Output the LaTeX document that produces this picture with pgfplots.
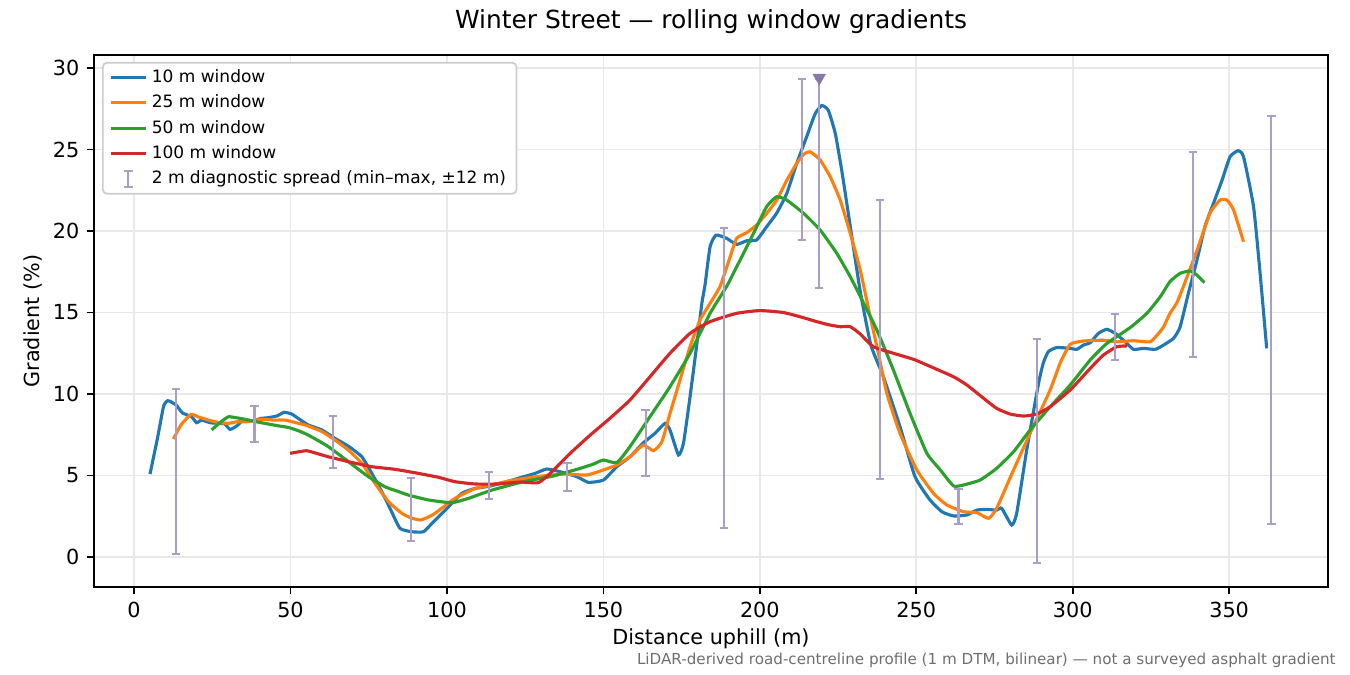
\documentclass[border=0pt]{standalone}
\usepackage{fontspec}
\setmainfont{DejaVu Sans}
\usepackage{pgfplots}
\pgfplotsset{compat=1.18}
\definecolor{c1}{HTML}{1F77B4}
\definecolor{c2}{HTML}{FF7F0E}
\definecolor{c3}{HTML}{2CA02C}
\definecolor{c4}{HTML}{D62728}
\definecolor{ebcol}{RGB}{170,158,198}
\definecolor{tricol}{RGB}{136,120,168}
\definecolor{gridcol}{RGB}{232,232,232}
\definecolor{fncol}{RGB}{110,110,110}
\begin{document}
\begin{tikzpicture}
\path[use as bounding box] (-45.12bp,-42.24bp) rectangle (602.88bp,281.76bp);
\begin{axis}[
  scale only axis, width=592.32bp, height=255.36bp,
  xmin=-12.8, xmax=381.6, ymin=-1.84, ymax=30.8,
  xtick={0,50,...,350}, ytick={0,5,...,30},
  tick pos=left, tick align=outside,
  major tick length=3.5bp,
  every tick/.style={black, line width=0.8bp},
  grid=major, grid style={gridcol, line width=0.8bp},
  axis line style={line width=0.8bp},
  ticklabel style={font=\fontsize{10}{12}\selectfont},
  /pgf/number format/assume math mode=true,
  xlabel={Distance uphill (m)}, ylabel={Gradient (\%)},
  label style={font=\fontsize{10}{12}\selectfont},
  xlabel style={at={(axis description cs:0.5,-0.097)}, anchor=center},
  ylabel style={at={(axis description cs:-0.0494,0.5)}, anchor=center},
  title={Winter Street — rolling window gradients},
  title style={at={(axis description cs:0.5,1.0395)}, anchor=center, font=\fontsize{12}{14}\selectfont},
  legend cell align=left,
  legend style={at={(0.0065,0.987)}, anchor=north west, draw={rgb,255:red,204;green,204;blue,204}, line width=0.8bp, rounded corners=2bp, fill=white,
    font=\fontsize{8.2}{10}\selectfont, nodes={inner ysep=1.2bp}, row sep=2.1bp},
]
\addplot[c1, line width=1.5bp, smooth, tension=0.3] coordinates {
(5.1,5.09)(7.5,7.3)(9.5,9.3)(10.8,9.59)(12.0,9.5)(13.6,9.3)(15.4,8.85)(18.4,8.6)(20.0,8.24)(21.6,8.4)(24.3,8.24)(27.0,8.2)(29.0,8.16)(30.7,7.83)(32.8,8.04)(35.0,8.4)(38.0,8.35)(40.5,8.5)(42.9,8.55)(45.6,8.65)(48.0,8.88)(50.4,8.77)(52.5,8.5)(55.7,8.1)(60.0,7.8)(64.2,7.28)(68.5,6.8)(72.8,6.15)(76.0,5.13)(79.2,4.0)(81.8,2.99)(85.0,1.76)(88.8,1.55)(92.5,1.55)(95.2,2.06)(100.5,3.08)(104.7,3.9)(107.4,4.11)(109.0,4.21)(113.8,4.35)(120.2,4.68)(124.0,4.9)(128.2,5.13)(131.9,5.4)(136.2,5.23)(141.5,4.93)(145.2,4.58)(150.0,4.72)(154.3,5.54)(158.5,6.15)(162.8,7.01)(166.5,7.59)(169.7,8.2)(171.3,7.79)(174.0,6.26)(175.6,6.98)(177.7,9.83)(179.9,13.1)(181.5,15.6)(182.5,16.7)(184.1,19.04)(186.0,19.75)(189.4,19.55)(192.6,19.18)(195.8,19.4)(199.0,19.45)(202.2,20.27)(205.4,21.1)(208.6,22.3)(211.8,24.15)(215.0,25.8)(217.7,27.2)(219.8,27.7)(221.9,27.4)(224.1,26.0)(226.2,23.7)(228.9,20.3)(232.1,16.3)(235.5,13.0)(239.5,11.06)(244.8,8.0)(249.6,4.93)(254.4,3.5)(258.2,2.78)(261.9,2.52)(266.2,2.58)(269.4,2.88)(272.6,2.92)(275.7,2.88)(277.3,2.99)(280.5,1.96)(282.1,2.68)(285.3,6.56)(289.1,10.66)(290.6,11.9)(292.2,12.6)(294.9,12.85)(299.2,12.8)(301.3,12.74)(303.4,13.0)(305.6,13.15)(308.2,13.72)(310.9,13.97)(313.6,13.72)(316.8,13.2)(319.4,12.74)(322.6,12.8)(326.4,12.74)(329.0,13.0)(332.2,13.41)(334.3,14.1)(337.0,16.2)(339.7,18.2)(342.3,20.3)(345.0,21.7)(347.7,23.1)(350.3,24.56)(352.9,24.93)(354.6,24.56)(357.8,21.5)(359.9,17.4)(362.0,12.8)
};
\addlegendentry{10 m window}
\addplot[c2, line width=1.5bp, smooth, tension=0.3] coordinates {
(12.6,7.24)(15.0,8.1)(18.2,8.75)(20.5,8.6)(23.8,8.4)(27.0,8.25)(30.1,8.2)(33.0,8.3)(36.0,8.3)(40.8,8.45)(44.5,8.4)(48.3,8.4)(51.5,8.25)(54.7,8.1)(60.0,7.7)(64.2,7.18)(68.5,6.56)(72.8,5.75)(77.0,4.52)(81.3,3.4)(85.6,2.68)(88.5,2.4)(91.4,2.27)(93.5,2.4)(96.2,2.68)(102.6,3.6)(109.0,4.2)(113.8,4.4)(120.2,4.68)(128.7,4.93)(137.2,5.09)(144.7,5.03)(150.0,5.34)(154.3,5.64)(158.5,6.15)(162.8,6.87)(166.0,6.52)(168.7,7.07)(171.3,8.81)(174.5,10.86)(177.7,12.9)(180.9,14.54)(184.1,15.56)(187.3,16.6)(190.5,18.4)(192.6,19.55)(195.8,19.9)(199.0,20.37)(202.2,21.08)(205.4,21.9)(208.6,23.1)(211.8,24.15)(214.0,24.7)(216.1,24.86)(219.3,24.36)(222.5,23.33)(225.7,21.9)(228.9,19.86)(232.1,17.6)(235.3,14.74)(237.9,12.5)(240.6,10.04)(244.8,7.59)(250.2,5.34)(255.5,3.91)(259.8,3.19)(265.1,2.78)(269.4,2.72)(273.1,2.37)(275.7,2.99)(281.1,5.34)(286.4,7.59)(292.8,10.25)(296.0,11.9)(299.2,13.05)(303.4,13.25)(309.8,13.3)(314.1,13.2)(319.4,13.27)(324.7,13.2)(326.9,13.6)(329.0,14.1)(331.1,14.95)(333.3,15.6)(335.4,16.6)(339.7,18.8)(343.9,21.1)(347.1,21.9)(349.3,21.9)(351.4,21.3)(354.6,19.34)
};
\addlegendentry{25 m window}
\addplot[c3, line width=1.5bp, smooth, tension=0.3] coordinates {
(24.8,7.8)(27.5,8.25)(30.1,8.6)(32.5,8.55)(35.5,8.45)(39.0,8.3)(42.9,8.16)(46.0,8.05)(49.3,7.95)(52.5,7.75)(55.7,7.48)(62.1,6.77)(68.5,5.85)(74.9,4.93)(80.2,4.31)(84.0,4.05)(87.7,3.8)(94.1,3.5)(101.5,3.33)(106.9,3.6)(114.3,4.1)(124.4,4.62)(134.0,4.97)(142.6,5.44)(146.8,5.7)(150.0,5.95)(154.3,5.79)(158.5,6.77)(164.9,8.61)(171.3,10.45)(177.7,12.5)(184.1,14.95)(189.4,16.6)(192.6,17.8)(198.0,19.86)(202.2,21.5)(205.4,22.1)(208.6,21.9)(213.9,21.1)(219.3,20.06)(224.6,18.63)(228.9,17.2)(233.1,15.6)(237.4,13.93)(242.7,11.47)(248.0,8.82)(253.4,6.36)(257.7,5.34)(261.9,4.36)(265.1,4.42)(270.4,4.72)(275.7,5.44)(281.1,6.46)(286.4,7.79)(292.8,9.22)(299.2,10.55)(305.6,12.09)(310.9,13.1)(318.4,14.08)(323.7,14.95)(328.0,15.97)(331.1,16.9)(334.3,17.4)(337.5,17.55)(339.7,17.3)(342.1,16.83)
};
\addlegendentry{50 m window}
\addplot[c4, line width=1.5bp, smooth, tension=0.3] coordinates {
(49.9,6.36)(52.5,6.45)(55.2,6.52)(58.5,6.35)(62.1,6.15)(68.5,5.85)(76.0,5.54)(83.4,5.38)(90.9,5.13)(97.3,4.89)(102.6,4.62)(109.0,4.48)(115.9,4.48)(123.4,4.6)(129.2,4.56)(133.0,5.13)(139.4,6.36)(145.8,7.48)(152.1,8.51)(158.5,9.63)(164.9,11.06)(171.3,12.5)(177.7,13.72)(184.1,14.44)(192.6,14.95)(200.1,15.12)(207.5,15.0)(212.9,14.74)(218.2,14.44)(222.0,14.25)(225.7,14.13)(228.9,14.13)(232.1,13.68)(236.3,12.9)(242.7,12.5)(249.1,12.13)(253.4,11.78)(261.9,11.06)(266.2,10.55)(271.5,9.74)(275.7,9.12)(280.0,8.77)(284.3,8.65)(288.5,8.77)(292.8,9.22)(299.2,10.25)(305.6,11.57)(309.8,12.39)(314.1,12.9)(317.3,12.95)
};
\addlegendentry{100 m window}
\addplot[forget plot, draw=none, mark=none,
  error bars/.cd, y dir=both, y explicit,
  error bar style={draw=ebcol, solid, line width=1bp},
  error mark=-,
  error mark options={draw=ebcol, solid, line width=1bp, mark size=2bp, rotate=90}]
  coordinates {
(13.5,5.25) +- (0,5.05)
(38.5,8.16) +- (0,1.10)
(63.5,7.055) +- (0,1.595)
(88.5,2.915) +- (0,1.935)
(113.5,4.38) +- (0,0.82)
(138.5,4.91) +- (0,0.86)
(163.5,6.985) +- (0,2.015)
(188.5,10.99) +- (0,9.21)
(213.5,24.375) +- (0,4.925)
(219,22.9) +- (0,6.4)
(238.5,13.35) +- (0,8.55)
(263.5,3.095) +- (0,1.075)
(288.5,6.5) +- (0,6.87)
(313.5,13.5) +- (0,1.4)
(338.5,18.56) +- (0,6.29)
(363.5,14.54) +- (0,12.52)
};
\addlegendimage{legend image code/.code={
  \draw[ebcol,line width=1bp] (0.3cm,-4bp)--(0.3cm,4bp);
  \draw[ebcol,line width=1bp] (0.3cm-2bp,-4bp)--(0.3cm+2bp,-4bp) (0.3cm-2bp,4bp)--(0.3cm+2bp,4bp);}}
\addlegendentry{2 m diagnostic spread (min–max, ±12 m)}
\addplot[forget plot, only marks, mark=triangle*, mark size=3.3bp, color=tricol, mark options={rotate=180, fill=tricol, draw=tricol}] coordinates {(219,29.4)};
\end{axis}
\node[anchor=east, inner sep=0pt, font=\fontsize{7.3}{8.5}\selectfont, text=fncol] at (596.16bp,-35bp) {LiDAR-derived road-centreline profile (1 m DTM, bilinear) — not a surveyed asphalt gradient};
\end{tikzpicture}
\end{document}
